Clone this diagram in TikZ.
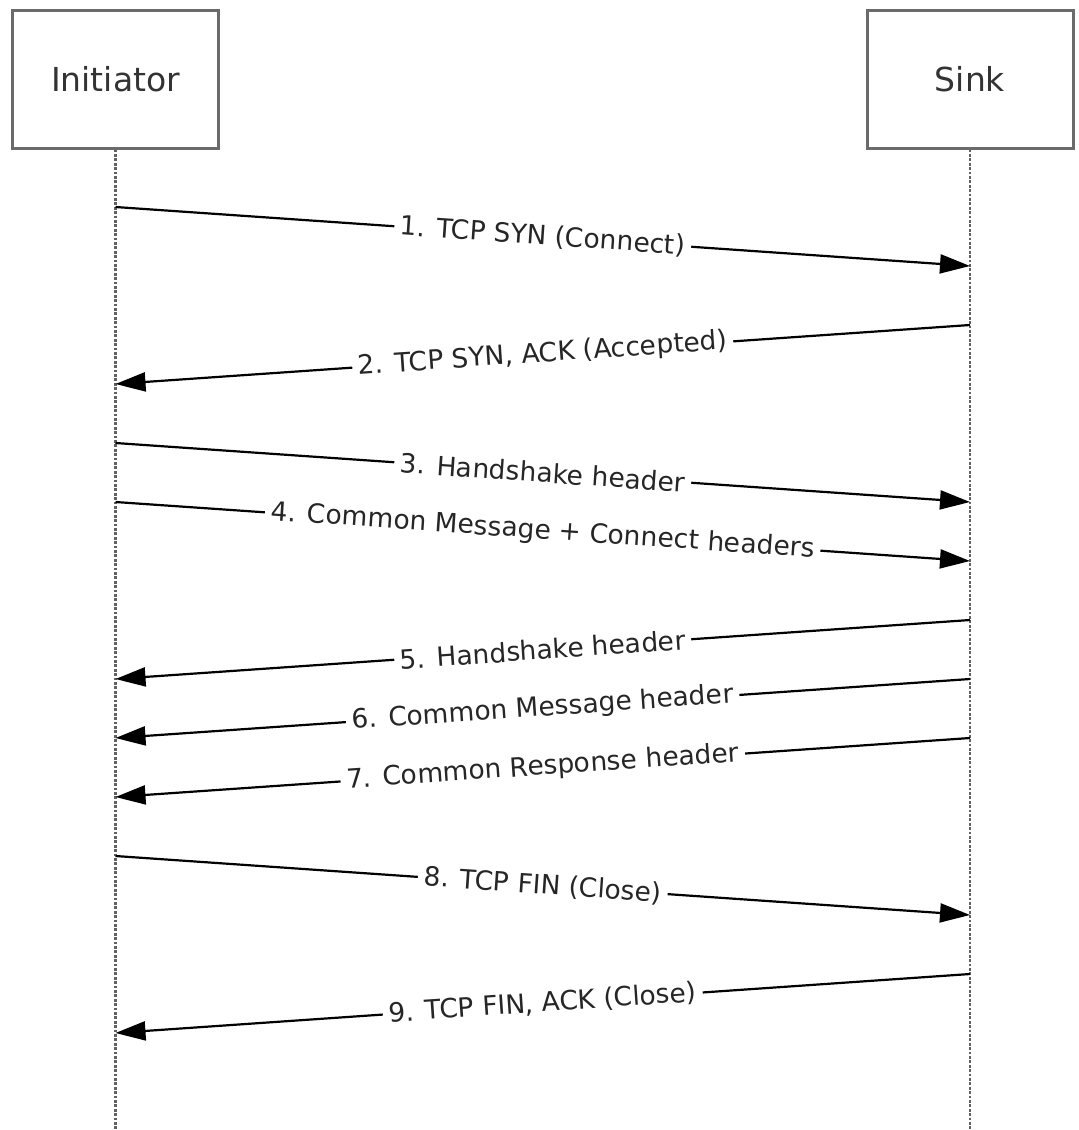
\documentclass[tikz,border=0pt]{standalone}
\usepackage{fontspec}
\setmainfont{DejaVu Sans}
\usetikzlibrary{arrows.meta}

\tikzset{
  actor/.style={draw=black!58, line width=3pt, minimum width=206pt, minimum height=138pt,
    font=\fontsize{33}{40}\selectfont, text=black!80},
  lifeline/.style={black!62, line width=2.8pt, dash pattern=on 2.8pt off 1.6pt},
  msg/.style={line width=2.2pt, -{Triangle[length=30pt,width=19pt]}},
  msglabel/.style={fill=white, sloped, inner sep=6pt, font=\fontsize{26.5}{32}\selectfont, text=black!85}
}

\begin{document}
\begin{tikzpicture}[x=1pt,y=-1pt]
\useasboundingbox (0,0) rectangle (1079,1130);

\node[actor] (init) at (115.5,79) {Initiator};
\node[actor] (sink) at (970,79) {Sink};

\coordinate (initend) at (115.5,1130);
\coordinate (sinkend) at (970,1130);
\draw[lifeline] (init.south) -- (initend);
\draw[lifeline] (sink.south) -- (sinkend);

% message ends: t = upper end, b = lower end
\foreach \n/\y in {1/207,2/325,3/443,4/502,5/620,6/679,7/738,8/856,9/974} {
  \coordinate (ti\n) at (115.5,\y);
  \coordinate (bi\n) at (115.5,\y+59);
  \coordinate (ts\n) at (970,\y);
  \coordinate (bs\n) at (970,\y+59);
}

\draw[msg] (ti1) -- node[msglabel] {1. TCP SYN (Connect)} (bs1);
\draw[msg] (ts2) -- node[msglabel] {2. TCP SYN, ACK (Accepted)} (bi2);
\draw[msg] (ti3) -- node[msglabel] {3. Handshake header} (bs3);
\draw[msg] (ti4) -- node[msglabel] {4. Common Message + Connect headers} (bs4);
\draw[msg] (ts5) -- node[msglabel] {5. Handshake header} (bi5);
\draw[msg] (ts6) -- node[msglabel] {6. Common Message header} (bi6);
\draw[msg] (ts7) -- node[msglabel] {7. Common Response header} (bi7);
\draw[msg] (ti8) -- node[msglabel] {8. TCP FIN (Close)} (bs8);
\draw[msg] (ts9) -- node[msglabel] {9. TCP FIN, ACK (Close)} (bi9);
\end{tikzpicture}
\end{document}
